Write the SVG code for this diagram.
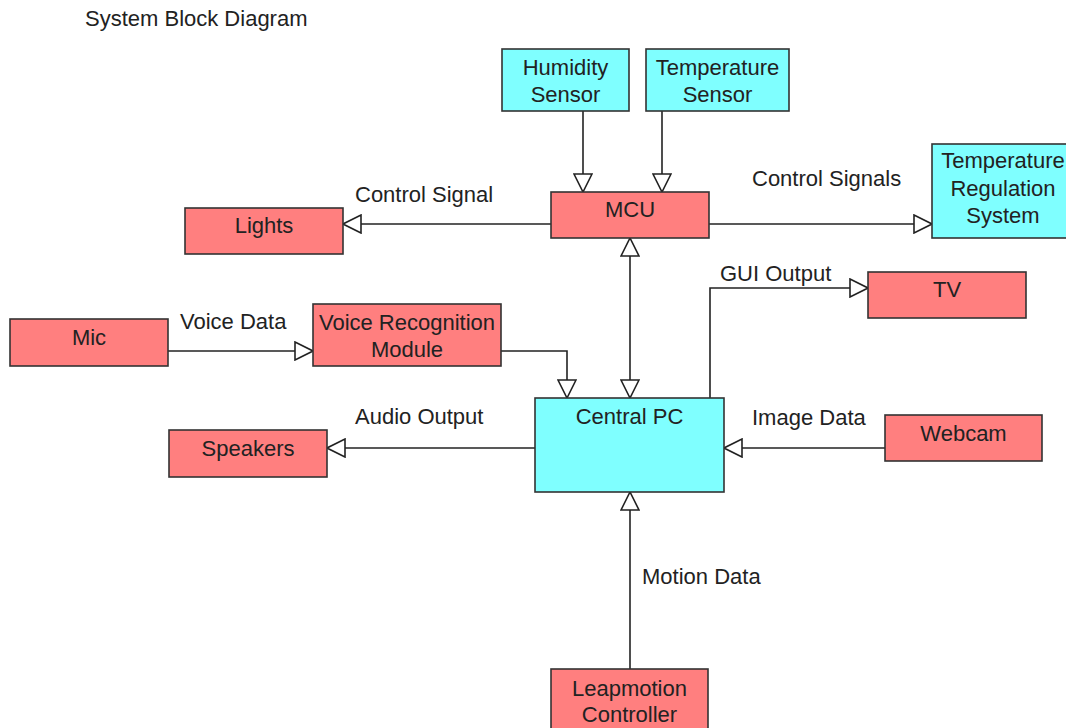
<svg xmlns="http://www.w3.org/2000/svg" width="1066" height="728" viewBox="0 0 1066 728">
  <style>
    text { font-family: "Liberation Sans", Arial, sans-serif; font-size: 22px; fill: #222; }
    .c { text-anchor: middle; }
    .box { stroke: #333; stroke-width: 1.6; }
    .red { fill: #FF7F7F; }
    .cyan { fill: #7FFFFF; }
    .wire { fill: none; stroke: #222; stroke-width: 1.6; }
  </style>
  <defs>
    <marker id="tri" viewBox="0 0 20 20" refX="19" refY="10" markerWidth="20" markerHeight="20" markerUnits="userSpaceOnUse" orient="auto-start-reverse">
      <path d="M1,1 L19,10 L1,19 Z" fill="#fff" stroke="#222" stroke-width="1.6"/>
    </marker>
  </defs>
  <rect width="1066" height="728" fill="#fff"/>

  <text x="85" y="26">System Block Diagram</text>

  <g id="connectors">
    <path class="wire" d="M583,111 V192" marker-end="url(#tri)"/>
    <path class="wire" d="M662,111 V192" marker-end="url(#tri)"/>
    <path class="wire" d="M551,224 H343" marker-end="url(#tri)"/>
    <path class="wire" d="M709,224 H932" marker-end="url(#tri)"/>
    <path class="wire" d="M630,238 V398" marker-start="url(#tri)" marker-end="url(#tri)"/>
    <path class="wire" d="M168,351 H313" marker-end="url(#tri)"/>
    <path class="wire" d="M501,351 H567 V398" marker-end="url(#tri)"/>
    <path class="wire" d="M535,448 H327" marker-end="url(#tri)"/>
    <path class="wire" d="M710,398 V288 H868" marker-end="url(#tri)"/>
    <path class="wire" d="M885,448 H724" marker-end="url(#tri)"/>
    <path class="wire" d="M630,669 V492" marker-end="url(#tri)"/>
    <text x="355" y="202">Control Signal</text>
    <text x="752" y="186">Control Signals</text>
    <text x="720" y="281">GUI Output</text>
    <text x="180" y="329">Voice Data</text>
    <text x="355" y="424">Audio Output</text>
    <text x="752" y="425">Image Data</text>
    <text x="642" y="584">Motion Data</text>
  </g>

  <g id="humidity-sensor">
    <rect class="box cyan" x="502" y="49" width="127" height="62"/>
    <text class="c" x="565.5" y="75">Humidity</text>
    <text class="c" x="565.5" y="102">Sensor</text>
  </g>
  <g id="temperature-sensor">
    <rect class="box cyan" x="646" y="49" width="143" height="62"/>
    <text class="c" x="717.5" y="75">Temperature</text>
    <text class="c" x="717.5" y="102">Sensor</text>
  </g>
  <g id="mcu">
    <rect class="box red" x="551" y="192" width="158" height="46"/>
    <text class="c" x="630" y="217">MCU</text>
  </g>
  <g id="lights">
    <rect class="box red" x="185" y="208" width="158" height="46"/>
    <text class="c" x="264" y="233">Lights</text>
  </g>
  <g id="temperature-regulation-system">
    <rect class="box cyan" x="932" y="144" width="142" height="94"/>
    <text class="c" x="1003" y="168">Temperature</text>
    <text class="c" x="1003" y="196">Regulation</text>
    <text class="c" x="1003" y="223">System</text>
  </g>
  <g id="tv">
    <rect class="box red" x="868" y="272" width="158" height="46"/>
    <text class="c" x="947" y="297">TV</text>
  </g>
  <g id="mic">
    <rect class="box red" x="10" y="319" width="158" height="47"/>
    <text class="c" x="89" y="345">Mic</text>
  </g>
  <g id="voice-recognition-module">
    <rect class="box red" x="313" y="304" width="188" height="62"/>
    <text class="c" x="407" y="330">Voice Recognition</text>
    <text class="c" x="407" y="357">Module</text>
  </g>
  <g id="speakers">
    <rect class="box red" x="169" y="430" width="158" height="47"/>
    <text class="c" x="248" y="456">Speakers</text>
  </g>
  <g id="central-pc">
    <rect class="box cyan" x="535" y="398" width="189" height="94"/>
    <text class="c" x="629.5" y="424">Central PC</text>
  </g>
  <g id="webcam">
    <rect class="box red" x="885" y="415" width="157" height="46"/>
    <text class="c" x="963.5" y="441">Webcam</text>
  </g>
  <g id="leapmotion-controller">
    <rect class="box red" x="551" y="669" width="157" height="70"/>
    <text class="c" x="629.5" y="696">Leapmotion</text>
    <text class="c" x="629.5" y="722">Controller</text>
  </g>
</svg>
